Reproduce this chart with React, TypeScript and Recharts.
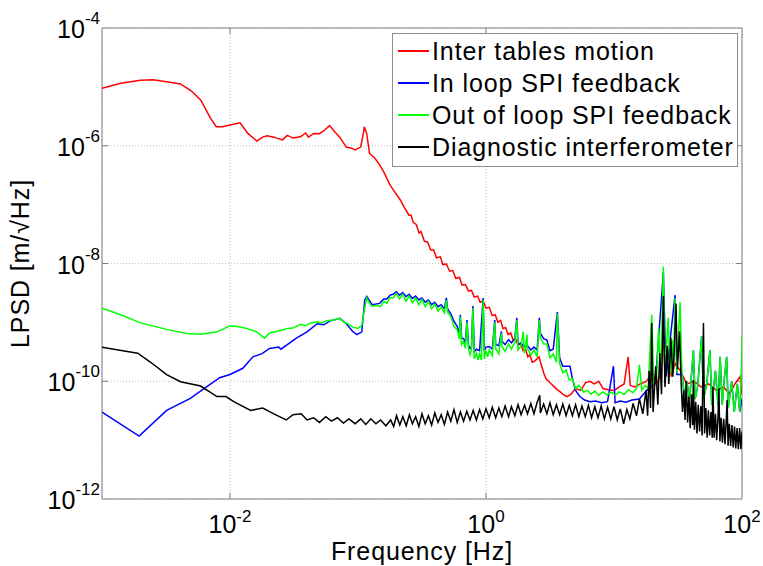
import React from "react";
import {
  LineChart,
  Line,
  XAxis,
  YAxis,
  CartesianGrid,
  Legend,
  ReferenceArea,
  ReferenceLine,
  Label,
} from "recharts";

type Pt = [number, number]; // [frequency Hz, LPSD m/sqrt(Hz)]

const interTables: Pt[] = [
  [0.001, 9.5e-6], [0.0014, 1.15e-5], [0.002, 1.3e-5], [0.0025, 1.32e-5], [0.0034, 1.2e-5],
  [0.0041, 1.12e-5], [0.005, 8.5e-6], [0.0059, 6.0e-6], [0.007, 3.0e-6], [0.0078, 2.1e-6],
  [0.0087, 2.1e-6], [0.01, 2.25e-6], [0.012, 2.45e-6], [0.0138, 1.62e-6], [0.0162, 1.2e-6],
  [0.018, 1.4e-6], [0.0195, 1.48e-6], [0.022, 1.4e-6], [0.0257, 1.26e-6], [0.028, 1.5e-6],
  [0.031, 1.35e-6], [0.0355, 1.42e-6], [0.039, 1.65e-6], [0.041, 1.4e-6], [0.045, 1.62e-6],
  [0.05, 1.6e-6], [0.055, 1.85e-6], [0.06, 2.2e-6], [0.066, 1.72e-6], [0.072, 1.4e-6],
  [0.081, 9.5e-7], [0.089, 9.1e-7], [0.095, 8.5e-7], [0.105, 9.5e-7], [0.11, 1.6e-6],
  [0.112, 2.1e-6], [0.117, 1.6e-6], [0.123, 7.4e-7], [0.135, 6.2e-7], [0.148, 4.7e-7],
  [0.16, 3.5e-7], [0.178, 2.15e-7], [0.19, 1.75e-7], [0.214, 1.2e-7], [0.23, 9.0e-8],
  [0.25, 6.6e-8], [0.26, 6.6e-8], [0.27, 5.0e-8], [0.285, 4.6e-8], [0.3, 3.3e-8],
  [0.31, 3.5e-8], [0.33, 2.4e-8], [0.35, 2.3e-8], [0.37, 1.7e-8], [0.39, 1.7e-8],
  [0.41, 1.25e-8], [0.44, 1.3e-8], [0.46, 9.6e-9], [0.49, 9.8e-9], [0.52, 7.4e-9],
  [0.55, 7.6e-9], [0.58, 5.6e-9], [0.62, 5.8e-9], [0.65, 4.3e-9], [0.69, 4.4e-9],
  [0.73, 3.4e-9], [0.77, 3.5e-9], [0.81, 2.7e-9], [0.86, 2.8e-9], [0.9, 2.2e-9],
  [0.95, 2.3e-9], [1.0, 1.75e-9], [1.06, 1.8e-9], [1.12, 1.3e-9], [1.18, 1.35e-9],
  [1.24, 1.0e-9], [1.3, 1.08e-9], [1.36, 7.8e-10], [1.42, 8.2e-10], [1.49, 6.2e-10],
  [1.56, 6.6e-10], [1.63, 5.0e-10], [1.7, 5.3e-10], [1.78, 4.1e-10], [1.86, 4.4e-10],
  [1.95, 3.3e-10], [2.04, 3.5e-10], [2.12, 2.6e-10], [2.2, 2.8e-10], [2.3, 2.1e-10],
  [2.4, 2.2e-10], [2.5, 2.4e-10], [2.6, 2.6e-10], [2.7, 1.9e-10], [2.85, 1.3e-10],
  [2.95, 1.1e-10], [3.15, 9.5e-11], [3.4, 8.1e-11], [3.6, 7.2e-11], [3.8, 6.6e-11],
  [4.0, 6.0e-11], [4.3, 5.5e-11], [4.6, 6.0e-11], [5.0, 7.5e-11], [5.5, 7.0e-11],
  [6.0, 9.5e-11], [6.5, 1.0e-10], [7.0, 9.0e-11], [7.6, 1.0e-10], [8.2, 7.5e-11],
  [9.0, 7.2e-11], [10, 7.0e-11], [11, 8.0e-11], [12, 9.0e-11], [12.9, 2.6e-10],
  [13.4, 8.5e-11], [14.5, 8.0e-11], [16, 9.0e-11], [18, 1.0e-10], [20, 1.5e-10],
  [21.5, 9.0e-11], [23, 1.3e-10], [24.3, 6.0e-10], [25, 1.5e-10], [27, 3.5e-10],
  [28, 1.2e-10], [30, 2.0e-10], [33, 1.5e-10], [37, 9.0e-11], [42, 1.0e-10],
  [48, 8.0e-11], [55, 9.0e-11], [63, 7.0e-11], [72, 8.0e-11], [80, 6.0e-11],
  [88, 9.0e-11], [97, 1.2e-10], [100, 6.0e-11],
];

const inLoop: Pt[] = [
  [0.001, 3.0e-11], [0.00195, 1.17e-11], [0.0032, 3.2e-11], [0.0049, 5.1e-11], [0.0066, 8.1e-11],
  [0.0083, 1.15e-10], [0.01, 1.3e-10], [0.0126, 1.66e-10], [0.0151, 2.6e-10], [0.0178, 2.95e-10],
  [0.0204, 3.6e-10], [0.024, 3.8e-10], [0.025, 3.5e-10], [0.033, 5.4e-10], [0.04, 6.9e-10],
  [0.048, 9.5e-10], [0.054, 9.1e-10], [0.06, 1.05e-9], [0.072, 1.17e-9], [0.081, 9.5e-10],
  [0.091, 7.0e-10], [0.098, 6.2e-10], [0.107, 6.9e-10], [0.113, 2.4e-9], [0.117, 2.75e-9],
  [0.129, 2.0e-9], [0.148, 2.1e-9], [0.15, 2.2e-9], [0.159, 2.5e-9], [0.168, 2.5e-9],
  [0.178, 2.9e-9], [0.188, 3.0e-9], [0.2, 3.3e-9], [0.211, 2.9e-9], [0.224, 3.2e-9],
  [0.237, 2.75e-9], [0.251, 3.0e-9], [0.266, 2.55e-9], [0.282, 2.8e-9], [0.299, 2.4e-9],
  [0.316, 2.6e-9], [0.335, 2.2e-9], [0.355, 2.4e-9], [0.376, 2.0e-9], [0.398, 2.2e-9],
  [0.422, 1.85e-9], [0.447, 2.0e-9], [0.473, 1.7e-9], [0.49, 2.6e-9], [0.501, 1.7e-9],
  [0.531, 1.4e-9], [0.562, 1.05e-9], [0.596, 8.5e-10], [0.62, 6.5e-10], [0.63, 1.35e-9],
  [0.645, 5.4e-10], [0.668, 5.3e-10], [0.69, 4.4e-10], [0.71, 1.1e-9], [0.73, 4.1e-10],
  [0.75, 3.6e-10], [0.77, 3.8e-10], [0.79, 1.9e-9], [0.81, 3.2e-10], [0.841, 3.5e-10],
  [0.891, 3.3e-10], [0.95, 2.6e-9], [0.97, 3.3e-10], [1.0, 3.8e-10], [1.06, 3.9e-10],
  [1.12, 3.5e-10], [1.17, 1.1e-9], [1.19, 4.2e-10], [1.26, 4.0e-10], [1.32, 7.0e-10],
  [1.33, 4.8e-10], [1.41, 4.2e-10], [1.5, 5.1e-10], [1.58, 4.5e-10], [1.68, 5.3e-10],
  [1.74, 1.2e-9], [1.78, 4.2e-10], [1.88, 4.5e-10], [2.0, 3.7e-10], [2.11, 4.0e-10],
  [2.24, 3.4e-10], [2.37, 3.8e-10], [2.51, 3.4e-10], [2.61, 1.2e-9], [2.66, 6.5e-10],
  [2.82, 5.3e-10], [2.99, 5.0e-10], [3.16, 3.3e-10], [3.35, 3.5e-10], [3.61, 1.5e-9],
  [3.76, 2.5e-10], [3.98, 1.8e-10], [4.22, 1.8e-10], [4.53, 1.8e-10], [4.73, 1.1e-10],
  [5.01, 7.0e-11], [5.4, 5.5e-11], [5.9, 4.8e-11], [6.5, 4.5e-11], [7.2, 4.6e-11],
  [8.0, 4.3e-11], [8.9, 4.5e-11], [9.9, 1.8e-10], [10.2, 4.3e-11], [11.2, 4.6e-11],
  [12.4, 4.4e-11], [13.8, 4.8e-11], [15.8, 5.0e-11], [18, 7.0e-11], [21, 9.0e-11],
  [24.3, 7.0e-9], [25.5, 1.2e-10], [30, 2.9e-9], [31, 1.3e-10], [34, 1.3e-10],
  [35.5, 5.5e-11], [37, 1.0e-10], [39, 5.0e-11], [41.7, 3.4e-10], [43, 5.0e-11],
  [45, 8.0e-11], [48.4, 5.8e-10], [50, 5.0e-11], [53, 9.0e-11], [56.2, 3.4e-10],
  [58, 4.0e-11], [62, 1.5e-10], [65, 4.0e-11], [67.5, 2.6e-10], [70, 4.0e-11],
  [73, 1.2e-10], [75.9, 2.6e-10], [78, 3.5e-11], [83, 1.0e-10], [87, 3.0e-11],
  [92, 9.0e-11], [96, 3.0e-11], [100, 5.0e-11],
];

const outOfLoop: Pt[] = [
  [0.001, 1.74e-9], [0.0014, 1.35e-9], [0.002, 9.8e-10], [0.0032, 7.6e-10], [0.0046, 6.5e-10],
  [0.0059, 6.3e-10], [0.0079, 6.9e-10], [0.01, 8.7e-10], [0.0115, 8.5e-10], [0.0135, 7.9e-10],
  [0.0162, 6.9e-10], [0.0186, 5.4e-10], [0.0204, 6.6e-10], [0.023, 7.0e-10], [0.0257, 7.4e-10],
  [0.028, 7.9e-10], [0.031, 8.0e-10], [0.0355, 9.3e-10], [0.039, 8.8e-10], [0.042, 9.6e-10],
  [0.048, 1.02e-9], [0.052, 9.8e-10], [0.057, 1.07e-9], [0.065, 1.1e-9], [0.072, 1.17e-9],
  [0.078, 1.0e-9], [0.083, 9.5e-10], [0.091, 8.3e-10], [0.1, 7.9e-10], [0.107, 8.9e-10],
  [0.112, 1.6e-9], [0.117, 2.6e-9], [0.123, 2.1e-9], [0.129, 1.86e-9], [0.14, 1.95e-9],
  [0.15, 1.85e-9], [0.159, 2.3e-9], [0.168, 2.1e-9], [0.178, 2.65e-9], [0.188, 2.6e-9],
  [0.2, 3.1e-9], [0.211, 2.5e-9], [0.224, 3.0e-9], [0.237, 2.3e-9], [0.251, 2.8e-9],
  [0.266, 2.15e-9], [0.282, 2.6e-9], [0.299, 2.0e-9], [0.316, 2.45e-9], [0.335, 1.85e-9],
  [0.355, 2.25e-9], [0.376, 1.7e-9], [0.398, 2.05e-9], [0.422, 1.55e-9], [0.447, 1.85e-9],
  [0.473, 1.45e-9], [0.49, 2.4e-9], [0.501, 1.5e-9], [0.531, 1.25e-9], [0.562, 8.5e-10],
  [0.596, 7.5e-10], [0.62, 5.2e-10], [0.63, 1.26e-9], [0.645, 4.2e-10], [0.668, 4.8e-10],
  [0.69, 3.6e-10], [0.71, 1.0e-9], [0.73, 3.6e-10], [0.75, 2.8e-10], [0.77, 3.4e-10],
  [0.79, 1.74e-9], [0.81, 2.4e-10], [0.841, 3.0e-10], [0.866, 2.3e-10], [0.891, 2.9e-10],
  [0.92, 2.3e-10], [0.95, 2.4e-9], [0.97, 2.4e-10], [1.0, 3.3e-10], [1.03, 2.6e-10],
  [1.06, 3.4e-10], [1.12, 2.7e-10], [1.17, 1.0e-9], [1.19, 3.6e-10], [1.26, 2.9e-10],
  [1.32, 6.5e-10], [1.33, 3.9e-10], [1.41, 3.2e-10], [1.5, 4.3e-10], [1.58, 3.5e-10],
  [1.68, 4.6e-10], [1.74, 1.1e-9], [1.78, 3.4e-10], [1.88, 4.0e-10], [1.95, 6.9e-10],
  [2.0, 3.0e-10], [2.09, 6.2e-10], [2.11, 3.6e-10], [2.24, 2.8e-10], [2.37, 3.4e-10],
  [2.51, 2.6e-10], [2.61, 1.1e-9], [2.66, 5.5e-10], [2.82, 4.3e-10], [2.99, 4.3e-10],
  [3.16, 2.5e-10], [3.35, 2.9e-10], [3.55, 2.1e-10], [3.61, 1.4e-9], [3.76, 2.0e-10],
  [3.98, 1.4e-10], [4.22, 1.55e-10], [4.47, 1.05e-10], [4.73, 1.1e-10], [5.01, 7.5e-11],
  [5.31, 8.5e-11], [5.8, 6.5e-11], [6.2, 7.0e-11], [6.6, 6.0e-11], [7.1, 6.8e-11],
  [7.6, 5.8e-11], [8.2, 6.6e-11], [8.8, 5.9e-11], [9.5, 6.5e-11], [10.2, 5.8e-11],
  [11, 6.6e-11], [12, 6.0e-11], [13, 7.2e-11], [14, 6.4e-11], [15, 7.5e-11],
  [15.8, 1.9e-10], [16.5, 7.0e-11], [17.5, 8.5e-11], [18.5, 7.5e-11], [19.7, 1.35e-9],
  [20.5, 9.0e-11], [21.5, 1.1e-10], [22.3, 8.0e-10], [23.2, 1.2e-10], [24.3, 8.9e-9],
  [25, 1.4e-10], [26.5, 1.2e-9], [27.5, 1.3e-10], [28.5, 5.0e-10], [29.2, 1.5e-10],
  [30, 2.6e-9], [31, 1.4e-10], [32.8, 2.2e-9], [34, 1.3e-10], [35.5, 5.5e-11],
  [37, 1.0e-10], [39, 5.0e-11], [41.7, 3.4e-10], [43, 5.0e-11], [45, 8.0e-11],
  [48.4, 5.8e-10], [50, 5.0e-11], [53, 9.0e-11], [56.2, 3.4e-10], [58, 4.0e-11],
  [62, 1.5e-10], [65, 4.0e-11], [67.5, 2.6e-10], [70, 4.0e-11], [73, 1.2e-10],
  [75.9, 2.6e-10], [78, 3.5e-11], [83, 1.0e-10], [87, 3.0e-11], [92, 9.0e-11],
  [96, 3.0e-11], [99.3, 1.9e-10], [100, 5.8e-10],
];

const diagnostic: Pt[] = [
  [0.001, 3.8e-10], [0.0019, 3.0e-10], [0.0024, 2.1e-10], [0.0032, 1.3e-10], [0.0041, 9.8e-11],
  [0.0059, 8.3e-11], [0.0079, 5.5e-11], [0.0093, 5.5e-11], [0.0107, 4.5e-11], [0.0145, 3.2e-11],
  [0.018, 3.5e-11], [0.022, 2.8e-11], [0.0275, 2.2e-11], [0.031, 2.7e-11], [0.036, 2.8e-11],
  [0.04, 2.2e-11], [0.045, 2.4e-11], [0.05, 2.0e-11], [0.056, 2.5e-11], [0.062, 2.1e-11],
  [0.069, 2.4e-11], [0.077, 1.95e-11], [0.085, 2.3e-11], [0.095, 1.9e-11], [0.105, 2.3e-11],
  [0.115, 1.85e-11], [0.126, 2.3e-11], [0.138, 1.9e-11], [0.15, 2.2e-11], [0.165, 1.75e-11],
  [0.18, 2.2e-11], [0.19, 1.7e-11], [0.2, 2.6e-11], [0.212, 1.8e-11], [0.224, 2.5e-11],
  [0.238, 1.75e-11], [0.252, 2.7e-11], [0.266, 1.9e-11], [0.282, 2.5e-11], [0.299, 1.7e-11],
  [0.316, 2.8e-11], [0.335, 1.9e-11], [0.355, 2.6e-11], [0.376, 1.8e-11], [0.398, 2.9e-11],
  [0.422, 2.0e-11], [0.447, 2.7e-11], [0.473, 1.85e-11], [0.501, 3.0e-11], [0.531, 2.1e-11],
  [0.562, 3.3e-11], [0.596, 2.0e-11], [0.631, 3.0e-11], [0.668, 2.1e-11], [0.708, 3.1e-11],
  [0.75, 2.2e-11], [0.794, 3.2e-11], [0.841, 2.2e-11], [0.891, 3.3e-11], [0.944, 2.3e-11],
  [1.0, 3.4e-11], [1.06, 2.4e-11], [1.12, 3.6e-11], [1.19, 2.4e-11], [1.26, 3.5e-11],
  [1.33, 2.5e-11], [1.41, 3.8e-11], [1.5, 2.5e-11], [1.58, 3.7e-11], [1.68, 2.6e-11],
  [1.78, 4.0e-11], [1.88, 2.7e-11], [2.0, 3.9e-11], [2.11, 2.8e-11], [2.24, 4.2e-11],
  [2.37, 2.8e-11], [2.51, 4.4e-11], [2.63, 5.8e-11], [2.66, 2.9e-11], [2.82, 4.1e-11],
  [2.99, 2.8e-11], [3.16, 4.3e-11], [3.35, 2.7e-11], [3.55, 4.0e-11], [3.76, 2.7e-11],
  [3.98, 4.1e-11], [4.22, 2.6e-11], [4.47, 3.9e-11], [4.73, 2.6e-11], [5.01, 4.0e-11],
  [5.31, 2.5e-11], [5.62, 3.8e-11], [5.96, 2.5e-11], [6.31, 3.9e-11], [6.68, 2.4e-11],
  [7.08, 3.7e-11], [7.5, 2.4e-11], [7.94, 3.8e-11], [8.41, 2.3e-11], [8.91, 3.6e-11],
  [9.44, 2.3e-11], [10, 3.7e-11], [10.6, 2.2e-11], [11.2, 3.4e-11], [11.9, 1.9e-11],
  [12.6, 3.3e-11], [13.3, 2.3e-11], [14.1, 4.2e-11], [15, 2.6e-11], [15.8, 5.0e-11],
  [16.8, 2.8e-11], [17.8, 7.0e-11], [18.3, 2.6e-11], [18.8, 1.5e-10], [19.3, 3.5e-11],
  [19.7, 9.8e-10], [20.2, 3.0e-11], [21.2, 1.8e-10], [22, 4.0e-11], [22.8, 3.0e-10],
  [23.5, 6.0e-11], [24.3, 2.8e-9], [25, 8.0e-11], [26, 4.0e-10], [26.8, 9.0e-11],
  [27.8, 5.5e-10], [28.8, 1.2e-10], [29.5, 3.0e-10], [30.5, 2.1e-9], [31.3, 1.6e-10],
  [32.5, 7.0e-10], [33.5, 9.0e-11], [34.3, 3.0e-11], [35.1, 7.0e-11], [35.9, 2.2e-11],
  [36.7, 1.0e-10], [37.6, 2.0e-11], [38.5, 5.5e-11], [39.4, 1.6e-11], [40.3, 6.0e-11],
  [41.2, 1.8e-11], [41.7, 1.05e-10], [42.5, 1.5e-11], [43.5, 4.5e-11], [44.5, 1.3e-11],
  [45.5, 4.0e-11], [46.6, 1.4e-11], [47.7, 3.8e-11], [48.8, 1.2e-11], [50, 9.8e-10],
  [51, 1.3e-11], [52.2, 3.5e-11], [53.4, 1.1e-11], [54.6, 3.2e-11], [55.9, 1.2e-11],
  [57.2, 3.0e-11], [58.5, 1.1e-11], [59.2, 8.0e-11], [60.5, 1.1e-11], [62, 2.8e-11],
  [63.4, 1.0e-11], [65, 2.6e-11], [66, 7.5e-11], [67.2, 9.5e-12], [68.7, 2.4e-11],
  [70.3, 9.0e-12], [72, 2.3e-11], [73.6, 8.5e-12], [75.3, 2.1e-11], [76.5, 4.8e-11],
  [77.8, 8.0e-12], [79.6, 1.9e-11], [81.5, 8.0e-12], [83.4, 1.8e-11], [85.4, 7.5e-12],
  [87.4, 1.7e-11], [89.4, 7.2e-12], [91.5, 1.6e-11], [93.6, 7.0e-12], [95.8, 1.6e-11],
  [98, 7.0e-12], [100, 1.4e-11],
];

const seriesNames = [
  "Inter tables motion",
  "In loop SPI feedback",
  "Out of loop SPI feedback",
  "Diagnostic interferometer",
];
const seriesColors = ["#ff0000", "#0000ff", "#00ff00", "#000000"];
const seriesPoints = [interTables, inLoop, outOfLoop, diagnostic];

const X_MIN = 0.001;
const X_MAX = 100;
const Y_MIN = 1e-12;
const Y_MAX = 1e-4;
const xTicks = [0.01, 1, 100];
const yTicks = [1e-12, 1e-10, 1e-8, 1e-6, 1e-4];
// inner tick marks (matlab style), length given as a ratio on the log axes
const xTickRatio = 1.114;
const yTickRatio = 1.264;

const FONT = '"Liberation Sans", Arial, Helvetica, sans-serif';
const FRAME = "#7f7f7f";

const toRows = (pts: Pt[]) => pts.map(([f, v]) => ({ f, v }));

const exponentOf = (v: number) => String(Math.round(Math.log10(v)));

const YTick = (props: any) => {
  const { x, y, payload } = props;
  return (
    <text x={x} y={y + 10} textAnchor="end" fontFamily={FONT} fontSize={25} fill="#000">
      <tspan>10</tspan>
      <tspan dy={-14} fontSize={17}>
        {exponentOf(payload.value)}
      </tspan>
    </text>
  );
};

const XTick = (props: any) => {
  const { x, y, payload } = props;
  return (
    <text x={x} y={y + 34} textAnchor="middle" fontFamily={FONT} fontSize={25} fill="#000">
      <tspan>10</tspan>
      <tspan dy={-11} fontSize={17}>
        {exponentOf(payload.value)}
      </tspan>
    </text>
  );
};

const LegendBox = () => (
  <div
    style={{
      border: "1px solid #8c8c8c",
      background: "#fff",
      width: 344,
      padding: "1px 0 3px 0",
      fontFamily: FONT,
      fontSize: 25,
      letterSpacing: 0.9,
      color: "#000",
    }}
  >
    {seriesNames.map((name, i) => (
      <div key={name} style={{ display: "flex", alignItems: "center", height: 32 }}>
        <span
          style={{
            display: "inline-block",
            width: 31,
            height: 0,
            borderTop: `2px solid ${seriesColors[i]}`,
            marginLeft: 5,
            marginRight: 3,
          }}
        />
        <span style={{ whiteSpace: "nowrap" }}>{name}</span>
      </div>
    ))}
  </div>
);

const innerTicks = () => {
  const segs: { x: number; y: number }[][] = [];
  yTicks
    .filter((t) => t > Y_MIN && t < Y_MAX)
    .forEach((t) => {
      segs.push([{ x: X_MIN, y: t }, { x: X_MIN * xTickRatio, y: t }]);
      segs.push([{ x: X_MAX / xTickRatio, y: t }, { x: X_MAX, y: t }]);
    });
  xTicks
    .filter((t) => t > X_MIN && t < X_MAX)
    .forEach((t) => {
      segs.push([{ x: t, y: Y_MIN }, { x: t, y: Y_MIN * yTickRatio }]);
      segs.push([{ x: t, y: Y_MAX / yTickRatio }, { x: t, y: Y_MAX }]);
    });
  return segs;
};

export default function App() {
  return (
    <div>
      <style>{"body{margin:0}"}</style>
      <LineChart
        width={763}
        height={566}
        margin={{ top: 28, right: 21, bottom: 0, left: 0 }}
        style={{ background: "#fff" }}
      >
        <CartesianGrid stroke="#c4c4c4" strokeDasharray="1 2" />
        <XAxis
          dataKey="f"
          type="number"
          scale="log"
          domain={[X_MIN, X_MAX]}
          ticks={xTicks}
          allowDataOverflow
          height={67}
          axisLine={false}
          tickLine={false}
          tickSize={0}
          tickMargin={0}
          tick={<XTick />}
        >
          <Label
            value="Frequency [Hz]"
            position="insideBottom"
            offset={6}
            style={{ fontFamily: FONT, fontSize: 25, fill: "#000", letterSpacing: 0.9 }}
          />
        </XAxis>
        <YAxis
          dataKey="v"
          type="number"
          scale="log"
          domain={[Y_MIN, Y_MAX]}
          ticks={yTicks}
          allowDataOverflow
          width={102}
          axisLine={false}
          tickLine={false}
          tickSize={0}
          tickMargin={2}
          tick={<YTick />}
        >
          <Label
            value="LPSD [m/√Hz]"
            angle={-90}
            position="insideLeft"
            offset={20}
            style={{ fontFamily: FONT, fontSize: 25, fill: "#000", textAnchor: "middle", letterSpacing: 0.9 }}
          />
        </YAxis>
        {innerTicks().map((seg, i) => (
          <ReferenceLine key={`tk${i}`} segment={seg} stroke={FRAME} strokeWidth={1} />
        ))}
        <ReferenceArea
          x1={X_MIN}
          x2={X_MAX}
          y1={Y_MIN}
          y2={Y_MAX}
          fill="none"
          stroke={FRAME}
          strokeWidth={1}
        />
        {seriesPoints.map((pts, i) => (
          <Line
            key={seriesNames[i]}
            data={toRows(pts)}
            dataKey="v"
            name={seriesNames[i]}
            type="linear"
            stroke={seriesColors[i]}
            strokeWidth={1.5}
            dot={false}
            isAnimationActive={false}
          />
        ))}
        <Legend
          layout="horizontal"
          verticalAlign="middle"
          content={<LegendBox />}
          wrapperStyle={{ left: 392, top: 33, width: 346 }}
        />
      </LineChart>
    </div>
  );
}
